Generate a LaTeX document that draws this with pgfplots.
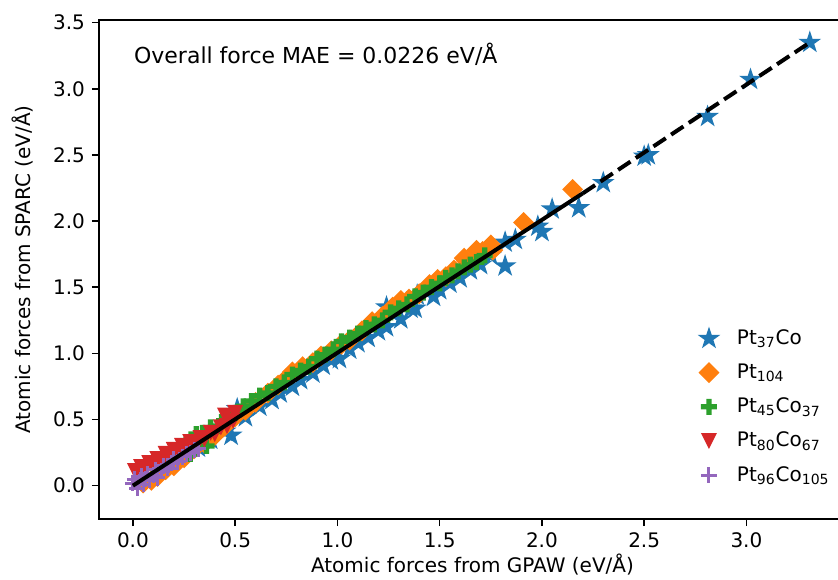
\documentclass[border=0pt]{standalone}
\usepackage{fontspec}
\setmainfont{DejaVu Sans}
\usepackage{pgfplots}
\pgfplotsset{compat=1.18}

\definecolor{c0}{HTML}{1F77B4}
\definecolor{c1}{HTML}{FF7F0E}
\definecolor{c2}{HTML}{2CA02C}
\definecolor{c3}{HTML}{D62728}
\definecolor{c4}{HTML}{9467BD}

% matplotlib-like filled markers
\pgfdeclareplotmark{fstar}{%
  \pgfpathmoveto{\pgfpointpolar{90}{\pgfplotmarksize}}%
  \pgfpathlineto{\pgfpointpolar{126}{0.382\pgfplotmarksize}}%
  \pgfpathlineto{\pgfpointpolar{162}{\pgfplotmarksize}}%
  \pgfpathlineto{\pgfpointpolar{198}{0.382\pgfplotmarksize}}%
  \pgfpathlineto{\pgfpointpolar{234}{\pgfplotmarksize}}%
  \pgfpathlineto{\pgfpointpolar{270}{0.382\pgfplotmarksize}}%
  \pgfpathlineto{\pgfpointpolar{306}{\pgfplotmarksize}}%
  \pgfpathlineto{\pgfpointpolar{342}{0.382\pgfplotmarksize}}%
  \pgfpathlineto{\pgfpointpolar{18}{\pgfplotmarksize}}%
  \pgfpathlineto{\pgfpointpolar{54}{0.382\pgfplotmarksize}}%
  \pgfpathclose
  \pgfusepathqfill}
\pgfdeclareplotmark{fdiamond}{%
  \pgfpathmoveto{\pgfpoint{0pt}{\pgfplotmarksize}}%
  \pgfpathlineto{\pgfpoint{\pgfplotmarksize}{0pt}}%
  \pgfpathlineto{\pgfpoint{0pt}{-\pgfplotmarksize}}%
  \pgfpathlineto{\pgfpoint{-\pgfplotmarksize}{0pt}}%
  \pgfpathclose
  \pgfusepathqfill}
\pgfdeclareplotmark{fplus}{%
  \pgfpathmoveto{\pgfpoint{-0.333\pgfplotmarksize}{-\pgfplotmarksize}}%
  \pgfpathlineto{\pgfpoint{0.333\pgfplotmarksize}{-\pgfplotmarksize}}%
  \pgfpathlineto{\pgfpoint{0.333\pgfplotmarksize}{-0.333\pgfplotmarksize}}%
  \pgfpathlineto{\pgfpoint{\pgfplotmarksize}{-0.333\pgfplotmarksize}}%
  \pgfpathlineto{\pgfpoint{\pgfplotmarksize}{0.333\pgfplotmarksize}}%
  \pgfpathlineto{\pgfpoint{0.333\pgfplotmarksize}{0.333\pgfplotmarksize}}%
  \pgfpathlineto{\pgfpoint{0.333\pgfplotmarksize}{\pgfplotmarksize}}%
  \pgfpathlineto{\pgfpoint{-0.333\pgfplotmarksize}{\pgfplotmarksize}}%
  \pgfpathlineto{\pgfpoint{-0.333\pgfplotmarksize}{0.333\pgfplotmarksize}}%
  \pgfpathlineto{\pgfpoint{-\pgfplotmarksize}{0.333\pgfplotmarksize}}%
  \pgfpathlineto{\pgfpoint{-\pgfplotmarksize}{-0.333\pgfplotmarksize}}%
  \pgfpathlineto{\pgfpoint{-0.333\pgfplotmarksize}{-0.333\pgfplotmarksize}}%
  \pgfpathclose
  \pgfusepathqfill}
\pgfdeclareplotmark{ftridown}{%
  \pgfpathmoveto{\pgfpoint{0pt}{-\pgfplotmarksize}}%
  \pgfpathlineto{\pgfpoint{-\pgfplotmarksize}{\pgfplotmarksize}}%
  \pgfpathlineto{\pgfpoint{\pgfplotmarksize}{\pgfplotmarksize}}%
  \pgfpathclose
  \pgfusepathqfill}

\begin{document}
\begin{tikzpicture}
\begin{axis}[
  scale only axis,
  width=373.5pt, height=249.5pt,
  xmin=-0.166, xmax=3.487,
  ymin=-0.252, ymax=3.52,
  clip mode=individual,
  axis line style={line width=0.8pt},
  tick style={line width=0.8pt, black},
  tick align=outside, major tick length=3.5pt,
  xtick pos=left, ytick pos=left,
  xtick={0,0.5,...,3.0},
  ytick={0,0.5,...,3.5},
  /pgf/number format/fixed,
  /pgf/number format/fixed zerofill,
  /pgf/number format/precision=1,
  /pgf/number format/assume math mode=true,
  tick label style={font=\fontsize{10}{12}\selectfont},
  label style={font=\fontsize{10}{12}\selectfont},
  xlabel={Atomic forces from GPAW (eV/Å)},
  ylabel={Atomic forces from SPARC (eV/Å)},
  xlabel style={yshift=4pt},
  ylabel style={yshift=3pt},
  legend style={draw=none, fill=none, at={(0.992,0.053)}, anchor=south east,
    font=\fontsize{10}{12}\selectfont, row sep=4.2pt},
  legend image code/.code={\path[draw=none, fill=none] (0pt,0pt) -- (14pt,0pt);
    \draw[#1] plot coordinates {(2pt,0pt)};},
  legend cell align=left,
]
% Pt37Co
\addplot[only marks, mark=fstar, mark size=6pt, color=c0] coordinates {
(0.32,0.29) (0.38,0.35) (0.45,0.41) (0.48,0.38) (0.51,0.58) (0.55,0.52) (0.62,0.60)
(0.68,0.65) (0.72,0.70) (0.78,0.75) (0.82,0.80) (0.88,0.85) (0.93,0.91) (0.97,0.95)
(1.01,0.96) (1.06,1.03) (1.10,1.08) (1.15,1.12) (1.20,1.17) (1.24,1.20) (1.24,1.35)
(1.31,1.26) (1.36,1.34) (1.38,1.34) (1.39,1.44) (1.47,1.43) (1.50,1.48) (1.55,1.53)
(1.60,1.57) (1.65,1.63) (1.70,1.67) (1.75,1.74) (1.82,1.84) (1.82,1.66) (1.87,1.86)
(1.98,1.96) (2.00,1.92) (2.05,2.09) (2.18,2.10) (2.30,2.29) (2.50,2.49) (2.52,2.50)
(2.81,2.79) (3.02,3.07) (3.31,3.35)
};
\addlegendentry{Pt\textsubscript{37}Co}
% Pt104
\addplot[only marks, mark=fdiamond, mark size=5.2pt, color=c1] coordinates {
(0.05,0.02) (0.09,0.04) (0.12,0.07) (0.16,0.12) (0.20,0.15) (0.25,0.21) (0.30,0.28)
(0.35,0.32) (0.40,0.38) (0.45,0.45) (0.50,0.52) (0.55,0.57) (0.60,0.63) (0.66,0.70)
(0.71,0.76) (0.75,0.81) (0.78,0.86) (0.83,0.90) (0.88,0.93) (0.92,0.98) (0.97,1.02)
(1.02,1.07) (1.06,1.10) (1.12,1.17) (1.17,1.24) (1.22,1.28) (1.27,1.35) (1.31,1.40)
(1.35,1.41) (1.40,1.45) (1.45,1.52) (1.49,1.56) (1.53,1.58) (1.57,1.63) (1.62,1.72)
(1.63,1.70) (1.68,1.78) (1.71,1.77) (1.75,1.82) (1.76,1.78) (1.91,1.99) (2.15,2.24)
};
\addlegendentry{Pt\textsubscript{104}}
% Pt45Co37
\addplot[only marks, mark=fplus, mark size=4pt, color=c2] coordinates {
(0.10,0.13) (0.14,0.17) (0.18,0.22) (0.22,0.26) (0.26,0.31) (0.28,0.24) (0.31,0.39)
(0.34,0.40) (0.36,0.30) (0.38,0.44) (0.42,0.45) (0.46,0.52) (0.50,0.55) (0.54,0.60)
(0.58,0.64) (0.62,0.68) (0.66,0.70) (0.70,0.75) (0.74,0.78) (0.78,0.84) (0.82,0.87)
(0.86,0.90) (0.90,0.96) (0.94,0.99) (0.98,1.03) (1.02,1.09) (1.06,1.12) (1.10,1.15)
(1.14,1.19) (1.18,1.22) (1.22,1.25) (1.26,1.31) (1.30,1.34) (1.34,1.37) (1.38,1.43)
(1.42,1.46) (1.46,1.50) (1.50,1.53) (1.53,1.57) (1.56,1.59) (1.59,1.62) (1.62,1.65)
(1.65,1.67) (1.68,1.69) (1.72,1.74)
};
\addlegendentry{Pt\textsubscript{45}Co\textsubscript{37}}
% Pt80Co67
\addplot[only marks, mark=ftridown, mark size=4pt, color=c3] coordinates {
(0.01,0.11) (0.03,0.09) (0.04,0.14) (0.06,0.12) (0.08,0.17) (0.10,0.15) (0.12,0.20)
(0.14,0.18) (0.16,0.24) (0.18,0.22) (0.20,0.27) (0.22,0.25) (0.24,0.30) (0.26,0.28)
(0.28,0.33) (0.30,0.32) (0.33,0.36) (0.35,0.35) (0.38,0.40) (0.40,0.39) (0.43,0.44)
(0.45,0.53) (0.46,0.45) (0.49,0.49) (0.50,0.55)
};
\addlegendentry{Pt\textsubscript{80}Co\textsubscript{67}}
% Pt96Co105
\addplot[only marks, mark=+, mark size=4pt, color=c4, line width=1.5pt] coordinates {
(0.00,0.02) (0.01,0.05) (0.02,-0.02) (0.03,0.03) (0.04,0.07) (0.05,0.01) (0.06,0.05)
(0.07,0.09) (0.08,0.04) (0.10,0.08) (0.11,0.12) (0.12,0.06) (0.14,0.11) (0.15,0.15)
(0.17,0.13) (0.19,0.17) (0.20,0.20) (0.22,0.18) (0.24,0.22) (0.26,0.24) (0.28,0.25)
(0.30,0.27) (0.32,0.28)
};
\addlegendentry{Pt\textsubscript{96}Co\textsubscript{105}}
% parity lines
\addplot[black, line width=2pt, forget plot] coordinates {(0,0) (2.20,2.21)};
\addplot[black, line width=2pt, dash pattern=on 7.4pt off 3.2pt, forget plot] coordinates {(2.20,2.21) (3.31,3.35)};
\node[anchor=base west, inner sep=0pt, font=\fontsize{11}{13}\selectfont] at (rel axis cs:0.0465,0.912) {Overall force MAE = 0.0226 eV/Å};
\coordinate (bbl) at (rel axis cs:-0.1325,-0.12024);
\coordinate (btr) at (rel axis cs:0.98929,1.04008);
\end{axis}
\pgfresetboundingbox
\useasboundingbox (bbl) rectangle (btr);
\end{tikzpicture}
\end{document}
